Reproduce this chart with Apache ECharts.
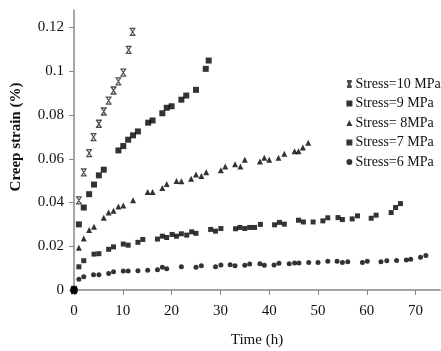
<!DOCTYPE html>
<html><head><meta charset="utf-8">
<script src="https://cdn.jsdelivr.net/npm/echarts@6/dist/echarts.min.js"></script>
<style>html,body{margin:0;padding:0;background:#fff}#c{width:441px;height:351px}</style>
</head><body><div id="c"></div>
<script>
const seriesNames = ['Stress=10 MPa','Stress=9 MPa','Stress= 8MPa','Stress=7 MPa','Stress=6 MPa'];
const xTicks = [0,10,20,30,40,50,60,70];
const yTicks = [0,0.02,0.04,0.06,0.08,0.1,0.12];

const t10 = [0,1.0,2.0,3.1,4.0,5.1,6.1,7.1,8.1,9.1,10.1,11.2,12.0];
const s10 = [0,0.041,0.0538,0.0626,0.0699,0.076,0.0816,0.0866,0.0912,0.0954,0.0994,0.1098,0.118];

const t9 = [0,1.0,2.0,3.1,4.1,5.1,6.1,9.1,10.1,11.1,12.1,13.1,15.2,16.1,18.1,19.0,20.0,22.0,23.0,25.0,27.0,27.6];
const s9 = [0,0.030,0.0377,0.0438,0.0482,0.0524,0.055,0.0638,0.0658,0.0687,0.0707,0.0725,0.0765,0.0775,0.0808,0.0833,0.084,0.087,0.0889,0.0915,0.1011,0.1049];

const t8 = [0,1.0,2.0,3.1,4.1,6.1,7.1,8.1,9.1,10.1,12.1,15.1,16.1,18.1,19.0,21.0,22.0,24.0,25.0,26.1,27.1,30.1,31.0,33.0,34.1,35.0,38.1,39.0,40.0,41.9,43.1,45.2,46.0,46.9,48.0];
const s8 = [0,0.0193,0.0236,0.0274,0.0289,0.033,0.0354,0.0362,0.0382,0.0386,0.041,0.0448,0.0448,0.0466,0.0485,0.0498,0.0497,0.0509,0.0528,0.0521,0.0538,0.0547,0.0565,0.0575,0.0565,0.0596,0.0588,0.0605,0.0596,0.0605,0.0623,0.0634,0.0634,0.0651,0.0673];

const t7 = [0,1.0,2.0,4.1,5.1,7.1,8.1,10.1,11.1,13.1,14.1,17.1,18.1,19.0,20.1,21.0,22.0,23.1,24.1,25.0,28.0,29.0,30.1,33.1,34.0,35.0,36.0,37.0,38.2,41.1,42.1,43.1,46.0,47.0,49.0,51.0,52.0,54.1,55.0,57.0,58.1,60.9,61.9,65.0,65.9,66.9];
const s7 = [0,0.0106,0.0134,0.0164,0.0166,0.0186,0.0197,0.021,0.0205,0.0218,0.0231,0.0233,0.0246,0.024,0.0254,0.0246,0.0257,0.0251,0.0266,0.0259,0.0277,0.0269,0.0281,0.028,0.0286,0.0281,0.0286,0.0286,0.030,0.0298,0.0309,0.0301,0.0319,0.0311,0.0311,0.0316,0.033,0.0331,0.0322,0.0325,0.0339,0.0328,0.0342,0.0354,0.0377,0.0395];

const t6 = [1.0,2.0,4.0,5.1,7.1,8.1,10.1,11.1,13.1,15.1,17.1,18.1,19.0,22.0,25.0,26.1,29.0,30.1,32.0,33.0,35.0,36.0,38.1,39.0,41.0,42.0,44.1,45.2,46.1,48.1,50.0,52.0,53.9,55.0,56.1,59.1,60.1,62.9,64.1,66.1,68.1,69.0,71.0,72.1];
const s6 = [0.0049,0.0061,0.007,0.007,0.0076,0.0083,0.0087,0.0087,0.0088,0.009,0.0093,0.0104,0.0097,0.0106,0.0104,0.0111,0.0106,0.0114,0.0115,0.0111,0.0113,0.0119,0.012,0.0113,0.0114,0.0122,0.012,0.0124,0.0124,0.0126,0.0126,0.0131,0.0131,0.0126,0.0129,0.0126,0.0131,0.0129,0.0134,0.0135,0.0137,0.0141,0.015,0.0158];
const originT = [0];
const originS = [0];

const zip = (a,b) => a.map((v,i) => [v,b[i]]);
const font = '"Liberation Serif","Times New Roman",serif';
const xMark = 'path://M1,0H9M1,10H9M2,0L8,10M8,0L2,10';

const chart = echarts.init(document.getElementById('c'), null, {renderer:'canvas'});
chart.setOption({
  animation:false,
  backgroundColor:'#fff',
  grid:{left:74,right:1,top:10,bottom:61,containLabel:false,outerBoundsMode:'none'},
  legend:{
    orient:'vertical', left:341, top:72, itemGap:5.5, itemWidth:6, itemHeight:6,
    textStyle:{fontFamily:font,fontSize:14,color:'#111',padding:[0,0,0,-2]},
    data:seriesNames.map(n=>({name:n}))
  },
  xAxis:{
    type:'value', min:0, max:75, interval:10,
    name:'Time (h)', nameLocation:'middle', nameGap:43,
    nameTextStyle:{fontFamily:font,fontSize:15,color:'#111'},
    axisLine:{onZero:false,lineStyle:{color:'#888',width:1.5}},
    axisTick:{show:true,inside:false,length:5,lineStyle:{color:'#888'},customValues:xTicks},
    axisLabel:{fontFamily:font,fontSize:15,color:'#111',margin:14,customValues:xTicks},
    splitLine:{show:false}
  },
  yAxis:{
    type:'value', min:0, max:0.128, interval:0.02,
    name:'Creep strain (%)', nameLocation:'middle', nameGap:50,
    nameTextStyle:{fontFamily:font,fontSize:15,fontWeight:'bold',color:'#111',padding:[0,0,0,26]},
    axisLine:{show:true,lineStyle:{color:'#888',width:1.5}},
    axisTick:{show:true,inside:false,length:5,lineStyle:{color:'#888'},customValues:yTicks},
    axisLabel:{fontFamily:font,fontSize:15,color:'#111',margin:10,customValues:yTicks},
    splitLine:{show:false}
  },
  series:[
    {name:seriesNames[0],type:'scatter',symbol:xMark,symbolSize:[6,7],
     itemStyle:{color:'transparent',borderColor:'#222',borderWidth:1.2},data:zip(t10,s10)},
    {name:seriesNames[1],type:'scatter',symbol:'rect',symbolSize:6,itemStyle:{color:'#000'},data:zip(t9,s9)},
    {name:seriesNames[2],type:'scatter',symbol:'triangle',symbolSize:6,itemStyle:{color:'#000'},data:zip(t8,s8)},
    {name:seriesNames[3],type:'scatter',symbol:'rect',symbolSize:5,itemStyle:{color:'#000'},data:zip(t7,s7)},
    {name:seriesNames[4],type:'scatter',symbol:'circle',symbolSize:5,itemStyle:{color:'#000'},data:zip(t6,s6)},
    {name:'origin',type:'scatter',symbol:'circle',symbolSize:8,itemStyle:{color:'#000'},data:zip(originT,originS),z:5}
  ]
});
</script></body></html>
